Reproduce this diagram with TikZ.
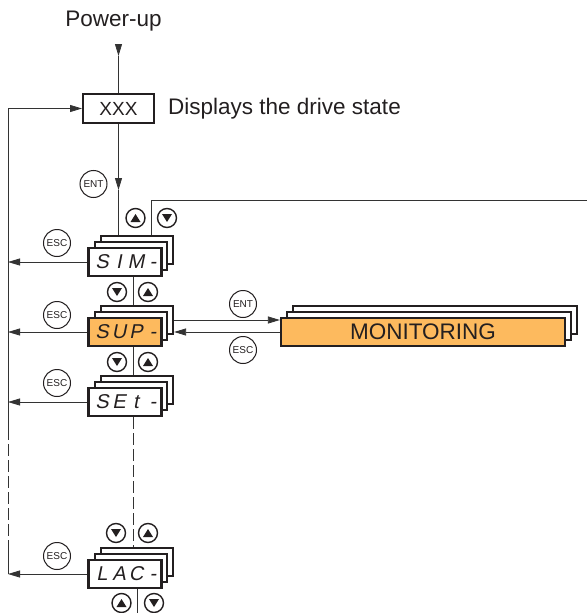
\documentclass[tikz,border=0pt]{standalone}
\usepackage{fontspec}
\setmainfont{Liberation Sans}
\newfontfamily\segfont[FakeSlant=0.2]{Liberation Sans}
\usetikzlibrary{arrows.meta}
\definecolor{ink}{HTML}{231F20}
\definecolor{wirec}{HTML}{333333}
\definecolor{orng}{HTML}{FDBA5E}
\newcommand\mainsz{\fontsize{22.5}{26}\selectfont}
\newcommand\segtext[4]{\hspace*{5pt}\makebox[17pt]{#1}\makebox[17pt]{#2}\makebox[17pt]{#3}\makebox[17pt]{#4}}
\newcommand\mkstack[5]{%
  \node[#4, fill=white] (#1-b) at ({#2+12},{#3-12}) {};
  \node[#4, fill=white] (#1-m) at ({#2+6},{#3-6}) {};
  \node[#4] (#1) at (#2,#3) {#5};}
\begin{document}
\begin{tikzpicture}[x=1pt,y=-1pt,
  card/.style={draw=ink, line width=2.2pt, fill=white, minimum width=72pt, minimum height=28pt, inner sep=0pt, text=ink, font=\segfont\fontsize{20}{24}\selectfont},
  segcard/.style={card},
  orcard/.style={card, fill=orng},
  moncard/.style={card, minimum width=284pt, fill=orng, font=\mainsz},
  keyc/.style={draw=ink, circle, line width=1pt, fill=white, minimum size=27pt, inner sep=0pt, text=ink, font=\fontsize{10}{12}\selectfont},
  arrk/.style={draw=ink, circle, line width=1.4pt, fill=white, minimum size=19pt, inner sep=0pt},
  upk/.style={arrk, path picture={\fill[ink] ([yshift=4pt]path picture bounding box.center) -- ++(-5pt,-8pt) -- ++(10pt,0pt) -- cycle;}},
  dnk/.style={arrk, path picture={\fill[ink] ([yshift=-4pt]path picture bounding box.center) -- ++(-5pt,8pt) -- ++(10pt,0pt) -- cycle;}},
  wire/.style={draw=wirec, line width=0.8pt},
  arr/.style={wire, -{Triangle[length=12pt,width=7pt]}},
  dashline/.style={wire, dash pattern=on 12pt off 4pt}
]
\useasboundingbox (0,0) rectangle (587,613);

% top
\node[font=\mainsz, anchor=base, inner sep=0pt, text=ink] (pwr) at (113.5,26) {Power-up};
\node[draw=ink, line width=2pt, minimum width=71pt, minimum height=29pt, inner sep=0pt, text=ink, font=\fontsize{19}{22}\selectfont] (xxx) at (118.5,108.5) {XXX};
\node[anchor=base west, inner sep=0pt, text=ink, font=\mainsz] (disp) at (168,114) {Displays the drive state};
\coordinate (pw0) at (118.5,44);
\coordinate (pw1) at (118.5,56);
\draw[arr] (pw0) -- (pw1);
\draw[wire] (pw1) -- (xxx.north);

% stacks
\mkstack{sin}{125}{262}{segcard}{\segtext SIM-}
\mkstack{sup}{125}{332}{orcard}{\segtext SUP-}
\mkstack{set}{125}{402}{segcard}{\segtext SEt-}
\mkstack{lac}{125}{574}{segcard}{\segtext LAC-}
\mkstack{mon}{423}{332}{moncard}{MONITORING}

% keys
\node[keyc] (ent1) at (93.5,184) {ENT};
\node[upk] (u1) at (135.5,218) {};
\node[dnk] (d1) at (167,218) {};
\node[keyc] (esc1) at (57,243) {ESC};
\node[dnk] (d2) at (117,292) {};
\node[upk] (u2) at (148,292) {};
\node[keyc] (esc2) at (57,315) {ESC};
\node[keyc] (ent2) at (243,304) {ENT};
\node[keyc] (esc3) at (243,350) {ESC};
\node[dnk] (d3) at (117,362) {};
\node[upk] (u3) at (148,362) {};
\node[keyc] (esc4) at (57,383) {ESC};
\node[dnk] (d4) at (116,533) {};
\node[upk] (u4) at (148,533) {};
\node[keyc] (esc5) at (57,556) {ESC};
\node[upk] (u5) at (121.5,603) {};
\node[dnk] (d5) at (154,603) {};

% XXX -> SIN
\coordinate (enttip) at (118.5,190);
\draw[arr] (xxx.south) -- (enttip);
\draw[wire] (enttip) -- (enttip |- sin-b.north);

% top right line
\coordinate (c0) at ([xshift=14pt]sin-b.north);
\coordinate (tr) at (587,200);
\draw[wire] (c0) |- (tr);

% between stacks
\coordinate (c1) at ([xshift=8pt]sin.south);
\draw[wire] (c1) -- (c1 |- sup-b.north);
\coordinate (c2) at ([xshift=8pt]sup.south);
\draw[wire] (c2) -- (c2 |- set-b.north);
\coordinate (c3) at ([xshift=8pt]set.south);
\draw[dashline] (c3) -- (c3 |- lac-b.north);
\coordinate (c4) at ([xshift=12pt]lac.south);
\coordinate (c4e) at (137,613);
\draw[wire] (c4) -- (c4e);

% SUP <-> MONITORING
\draw[arr] (sup-b.east) -- (sup-b.east -| mon.west);
\draw[arr] (mon.west) -- (mon.west -| sup-b.east);

% left return line
\coordinate (L0) at (8,108.5);
\coordinate (L1) at (8,428);
\coordinate (L2) at (8,548);
\coordinate (L3) at (8,574);
\draw[arr] (L0) -- (xxx.west);
\draw[wire] (L0) -- (L1);
\draw[dashline] (L1) -- (L2);
\draw[wire] (L2) -- (L3);
\draw[arr] (sin.west) -- (sin.west -| L0);
\draw[arr] (sup.west) -- (sup.west -| L0);
\draw[arr] (set.west) -- (set.west -| L0);
\draw[arr] (lac.west) -- (lac.west -| L0);
\end{tikzpicture}
\end{document}
